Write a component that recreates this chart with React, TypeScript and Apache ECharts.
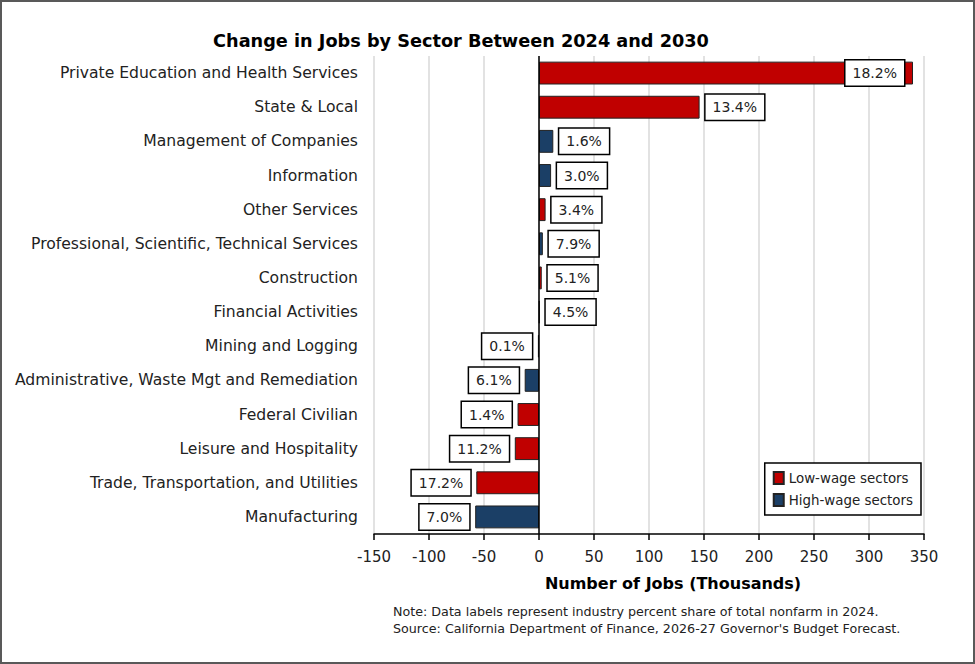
import React, { useEffect, useRef } from "react";
import * as echarts from "echarts";

const categories = [
  "Private Education and Health Services",
  "State & Local",
  "Management of Companies",
  "Information",
  "Other Services",
  "Professional, Scientific, Technical Services",
  "Construction",
  "Financial Activities",
  "Mining and Logging",
  "Administrative, Waste Mgt and Remediation",
  "Federal Civilian",
  "Leisure and Hospitality",
  "Trade, Transportation, and Utilities",
  "Manufacturing",
];
const jobChange = [340, 146, 13, 11, 6, 3.5, 2.5, 0.5, -1, -13, -19.5, -22, -57, -58];
const shareLabels = ["18.2%", "13.4%", "1.6%", "3.0%", "3.4%", "7.9%", "5.1%", "4.5%", "0.1%", "6.1%", "1.4%", "11.2%", "17.2%", "7.0%"];
const wageGroup = ["low", "low", "high", "high", "low", "high", "low", "high", "high", "high", "low", "low", "low", "high"];
const xTicks = { min: -150, max: 350, interval: 50 };

const FONT = "DejaVu Sans";
const RED = "#C00000";
const BLUE = "#1B3F66";

function buildSeriesData(group: string) {
  return jobChange.map((v, i) => {
    if (wageGroup[i] !== group) return "-";
    const position = i === 0 ? "insideRight" : v < 0 ? "left" : "right";
    return {
      value: v,
      label: {
        show: true,
        position,
        distance: i === 0 ? 9 : 6,
        formatter: () => shareLabels[i],
      },
    };
  });
}

export default function App() {
  const ref = useRef<HTMLDivElement>(null);
  useEffect(() => {
    if (!ref.current) return;
    const chart = echarts.init(ref.current, undefined, { renderer: "svg" });
    const labelStyle = {
      fontFamily: FONT,
      fontSize: 14,
      color: "#222",
      backgroundColor: "#fff",
      borderColor: "#000",
      borderWidth: 1.5,
      padding: [6, 7, 5, 7],
    };
    chart.setOption({
      animation: false,
      backgroundColor: "#fff",
      title: {
        text: "Change in Jobs by Sector Between 2024 and 2030",
        left: 456,
        textAlign: "center",
        top: 27,
        textStyle: { fontFamily: FONT, fontSize: 17.7, fontWeight: "bold", color: "#000" },
      },
      legend: {
        orient: "vertical",
        right: 54,
        top: 463,
        data: ["Low-wage sectors", "High-wage sectors"],
        icon: "rect",
        itemWidth: 10,
        itemHeight: 12,
        itemGap: 8,
        padding: [8, 8, 8, 8],
        borderColor: "#000",
        borderWidth: 1.5,
        backgroundColor: "#fff",
        textStyle: { fontFamily: FONT, fontSize: 13.4, color: "#222" },
      },
      grid: { left: 374, right: 51, top: 56, height: 478, containLabel: false },
      xAxis: {
        type: "value",
        min: xTicks.min,
        max: xTicks.max,
        interval: xTicks.interval,
        name: "Number of Jobs (Thousands)",
        nameLocation: "middle",
        nameGap: 41,
        nameTextStyle: { fontFamily: FONT, fontSize: 16, fontWeight: "bold", color: "#000", padding: [0, 0, 0, 48] },
        axisLine: { show: true, lineStyle: { color: "#000", width: 1.5 } },
        axisTick: { show: true, length: 6, lineStyle: { color: "#000", width: 1.5 } },
        axisLabel: { fontFamily: FONT, fontSize: 15, color: "#222", margin: 15 },
        splitLine: { show: true, lineStyle: { color: "#d9d9d9", width: 1.5 } },
      },
      yAxis: {
        type: "category",
        data: categories,
        inverse: true,
        axisLine: { show: false },
        axisTick: { show: false },
        axisLabel: { fontFamily: FONT, fontSize: 15.6, color: "#222", margin: 16 },
        splitLine: { show: false },
      },
      series: [
        {
          name: "Low-wage sectors",
          type: "bar",
          stack: "total",
          barCategoryGap: "33%",
          data: buildSeriesData("low"),
          itemStyle: { color: RED, borderColor: "#222", borderWidth: 1 },
          label: labelStyle,
          markLine: {
            silent: true,
            symbol: "none",
            label: { show: false },
            lineStyle: { color: "#000", width: 1.5, type: "solid" },
            data: [{ xAxis: 0 }],
          },
        },
        {
          name: "High-wage sectors",
          type: "bar",
          stack: "total",
          barCategoryGap: "33%",
          data: buildSeriesData("high"),
          itemStyle: { color: BLUE, borderColor: "#222", borderWidth: 1 },
          label: labelStyle,
        },
      ],
      graphic: [
        {
          type: "text",
          left: 393,
          top: 603,
          style: {
            text: "Note: Data labels represent industry percent share of total nonfarm in 2024.\nSource: California Department of Finance, 2026-27 Governor's Budget Forecast.",
            fontFamily: FONT,
            fontSize: 12.7,
            lineHeight: 17,
            fill: "#222",
          },
        },
        {
          type: "rect",
          shape: { x: 1, y: 1, width: 973, height: 662 },
          style: { fill: "none", stroke: "#595959", lineWidth: 2 },
          silent: true,
        },
      ],
    });
    return () => chart.dispose();
  }, []);
  return <div ref={ref} style={{ position: "absolute", left: 0, top: 0, width: 975, height: 664 }} />;
}
